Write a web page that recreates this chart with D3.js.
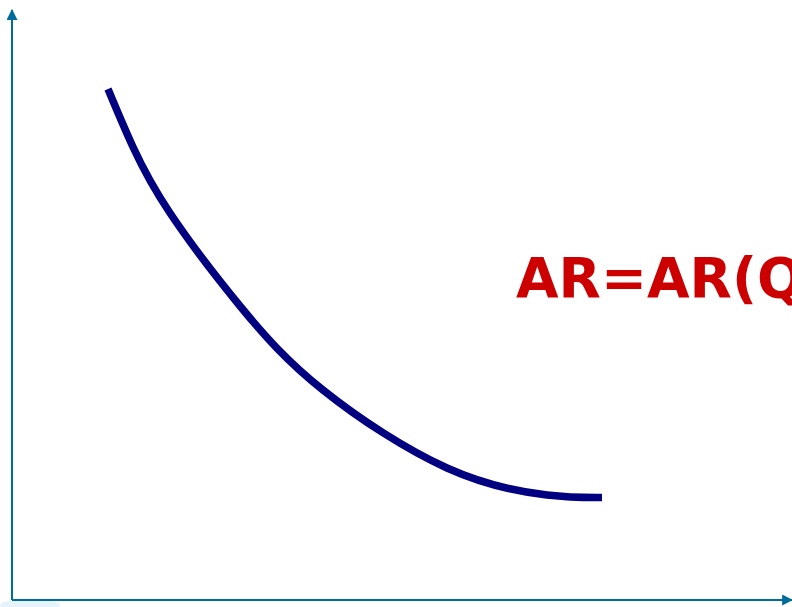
<!DOCTYPE html>
<html>
<head>
<meta charset="utf-8">
<script src="https://cdn.jsdelivr.net/npm/d3@7"></script>
<style>
  html, body { margin: 0; padding: 0; background: #ffffff; }
  svg { display: block; }
</style>
</head>
<body>
<svg id="chart" width="792" height="607"></svg>
<script>
// Average revenue curve: quantity vs. average revenue (arbitrary units)
const quantity = [96, 121, 158, 228, 311, 435, 535, 590];
const avgRevenue = [511, 453, 387, 294, 210, 132, 105, 102.5];
const curveLabel = "AR=AR(Q)";

const width = 792, height = 607;
const svg = d3.select("#chart");

const x = d3.scaleLinear().domain([0, 780]).range([12, 792]);
const y = d3.scaleLinear().domain([0, 590]).range([600, 10]);

const axisColor = "#006c9e";

// arrowhead marker for the axes
const defs = svg.append("defs");
defs.append("marker")
  .attr("id", "arrow")
  .attr("viewBox", "0 0 10 10")
  .attr("refX", 9).attr("refY", 5)
  .attr("markerWidth", 5.5).attr("markerHeight", 5.5)
  .attr("markerUnits", "strokeWidth")
  .attr("orient", "auto")
  .append("path")
  .attr("d", "M0,0 L10,5 L0,10 Z")
  .attr("fill", axisColor);

// faint glow at the origin
svg.append("ellipse")
  .attr("cx", x(18)).attr("cy", y(-5))
  .attr("rx", 30).attr("ry", 6)
  .attr("fill", "#e6f3fb");

// axes
svg.append("line")
  .attr("x1", x(0)).attr("y1", y(0))
  .attr("x2", x(0)).attr("y2", y(590))
  .attr("stroke", axisColor).attr("stroke-width", 2)
  .attr("marker-end", "url(#arrow)");

svg.append("line")
  .attr("x1", x(0)).attr("y1", y(0))
  .attr("x2", x(780)).attr("y2", y(0))
  .attr("stroke", axisColor).attr("stroke-width", 2)
  .attr("marker-end", "url(#arrow)");

// AR curve
const pts = quantity.map((q, i) => [q, avgRevenue[i]]);
const line = d3.line()
  .x(d => x(d[0]))
  .y(d => y(d[1]))
  .curve(d3.curveNatural);

svg.append("path")
  .datum(pts)
  .attr("d", line)
  .attr("fill", "none")
  .attr("stroke", "#000080")
  .attr("stroke-width", 7.5);

// curve label
svg.append("text")
  .attr("x", 516).attr("y", 297)
  .attr("font-family", "'DejaVu Sans', sans-serif")
  .attr("font-weight", "bold")
  .attr("font-size", 55)
  .attr("fill", "#cc0000")
  .text(curveLabel);
</script>
</body>
</html>
